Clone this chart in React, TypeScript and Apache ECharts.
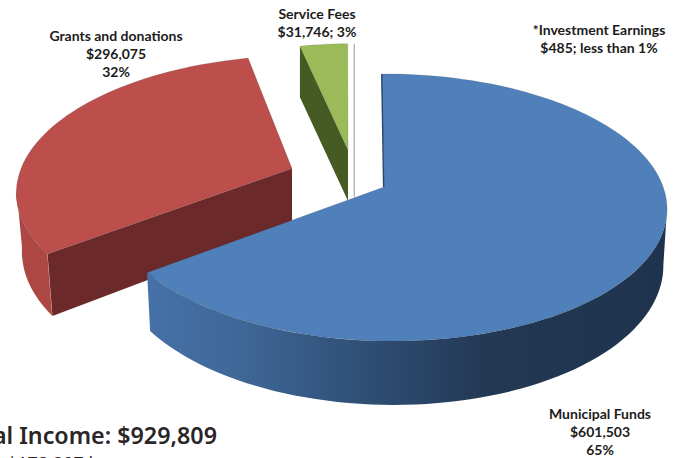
import React, { useEffect, useRef } from "react";
import * as echarts from "echarts";

const names = ["Municipal Funds", "Grants and donations", "Service Fees", "*Investment Earnings"];
const values = [601503, 296075, 31746, 485];
const labelLines = [
  ["Municipal Funds", "$601,503", "65%"],
  ["Grants and donations", "$296,075", "32%"],
  ["Service Fees", "$31,746; 3%"],
  ["*Investment Earnings", "$485; less than 1%"],
];
const totalText = "Total Income: $929,809";
const noteText = "$173,397 in";

// Drawing order, back to front
const drawOrder = [1, 2, 3, 0];

// Perspective of the pie's plane
const K = 0.1536;
const M = -0.015;
const RX = 275;
const RY = 130.4;

const layout = [
  { ox: 384, oy: 187, s: 1, c: -2.9, d: 54, persp: 1, sc: 0.987, wall: [99, 233] },
  { ox: 292, oy: 168.5, s: 1, c: 9, d: 57, persp: 1, sc: 0.98, wall: [233, 261] },
  { ox: 348, oy: 150, s: 0.94, c: 0.5, d: 51, persp: 0, sc: 1, wall: null },
  { ox: 355, oy: 150, s: 0.94, c: 0, d: 47, persp: 0, sc: 1, wall: null },
];
const labelPos = [
  { x: 600, y: 413.5 },
  { x: 116, y: 35.5 },
  { x: 317, y: 13.5 },
  { x: 599, y: 29.5 },
];
const topColors = ["#4f80ba", "#bc4f4c", "#9bbb59", "#ffffff"];

function proj(l: any, deg: number) {
  const t = (deg * Math.PI) / 180;
  const u = Math.sin(t);
  const v = Math.cos(t);
  const w = 1 + K * v + M * u;
  return { x: l.ox + (l.s * (RX * u + l.c * v)) / w, y: l.oy - (l.s * RY * v) / w, w };
}
function low(l: any, p: { x: number; y: number; w: number }) {
  return [l.ox + (p.x - l.ox) * l.sc, p.y + l.d / Math.pow(p.w, l.persp)];
}
function arc(l: any, a0: number, a1: number) {
  const pts: { x: number; y: number; w: number }[] = [];
  const n = Math.max(2, Math.ceil(Math.abs(a1 - a0) / 2));
  for (let i = 0; i <= n; i++) pts.push(proj(l, a0 + ((a1 - a0) * i) / n));
  return pts;
}

const total = values.reduce((a, b) => a + b, 0);
const starts: number[] = [];
values.reduce((acc, v, i) => {
  starts[i] = (acc / total) * 360;
  return acc + v;
}, 0);

function gradient(x0: number, x1: number, stops: [number, string][]) {
  return new echarts.graphic.LinearGradient(
    x0, 0, x1, 0,
    stops.map(([offset, color]) => ({ offset, color })),
    true
  );
}

function renderSlice(params: any, api: any) {
  const i = api.value(1);
  const l = layout[i];
  const a0 = starts[i];
  const a1 = a0 + (api.value(0) / total) * 360;
  const children: any[] = [];
  const apex = [l.ox, l.oy];
  const apexLow = [l.ox, l.oy + l.d];
  const topArc = arc(l, a0, a1);

  if (i === 0) {
    const pts = arc(l, l.wall![0], l.wall![1]);
    children.push({
      type: "polygon",
      shape: { points: [...pts.map((p) => [p.x, p.y]), ...pts.slice().reverse().map((p) => low(l, p))] },
      style: {
        fill: gradient(146, 667, [
          [0, "#4672a8"],
          [0.18, "#3f6797"],
          [0.35, "#33567f"],
          [0.52, "#2a4567"],
          [0.66, "#223853"],
          [1, "#1f334e"],
        ]),
      },
    });
  }
  if (i === 1) {
    const pts = arc(l, l.wall![0], l.wall![1]);
    children.push({
      type: "polygon",
      shape: { points: [...pts.map((p) => [p.x, p.y]), ...pts.slice().reverse().map((p) => low(l, p))] },
      style: { fill: "#ad4744" },
    });
    const e = proj(l, a0);
    children.push({
      type: "polygon",
      shape: { points: [apex, [e.x, e.y], low(l, e), apexLow] },
      style: { fill: "#6b2a29" },
    });
  }
  if (i === 2) {
    const e = proj(l, a0);
    children.push({
      type: "polygon",
      shape: { points: [apex, [e.x, e.y], low(l, e), apexLow] },
      style: { fill: "#465a24" },
    });
  }
  if (i === 3) {
    const e = proj(l, a0);
    children.push({
      type: "polygon",
      shape: { points: [[e.x - 0.6, e.y], [e.x + 0.6, e.y], [e.x + 0.6, apexLow[1]], [e.x - 0.6, apexLow[1]]] },
      style: { fill: "#a6aaab" },
    });
    return { type: "group", children };
  }

  children.push({
    type: "polygon",
    shape: { points: [apex, ...topArc.map((p) => [p.x, p.y])] },
    style: { fill: topColors[i], stroke: "rgba(50,50,50,0.2)", lineWidth: 0.8 },
  });
  if (i === 0) {
    const e = proj(l, a0);
    children.push({
      type: "line",
      shape: { x1: e.x + 0.3, y1: e.y, x2: apex[0] - 0.4, y2: apex[1] },
      style: { stroke: "#2b486e", lineWidth: 1.4 },
    });
  }
  return { type: "group", children };
}

export default function App() {
  const ref = useRef<HTMLDivElement>(null);
  useEffect(() => {
    document.body.style.margin = "0";
    const chart = echarts.init(ref.current!, undefined, { renderer: "svg" });
    const labelFont = 'bold 14px Lato, "Noto Sans", sans-serif';
    const graphics: any[] = [];
    labelLines.forEach((lines, i) => {
      lines.forEach((t, j) => {
        graphics.push({
          type: "text",
          x: labelPos[i].x,
          y: labelPos[i].y + j * 18,
          style: { text: t, font: labelFont, fill: "#1c1c1c", textAlign: "center", textVerticalAlign: "middle" },
        });
      });
    });
    graphics.push({
      type: "text",
      x: 217,
      y: 434.5,
      style: { text: totalText, font: '600 23.3px "Noto Sans", sans-serif', fill: "#2a2627", textAlign: "right", textVerticalAlign: "middle" },
    });
    graphics.push({
      type: "text",
      x: 7,
      y: 463,
      style: { text: noteText, font: '400 18px "Noto Sans", sans-serif', fill: "#2a2627", textAlign: "left", textVerticalAlign: "middle" },
    });
    chart.setOption({
      animation: false,
      backgroundColor: "#ffffff",
      graphic: graphics,
      series: [
        {
          type: "custom",
          name: "Income",
          coordinateSystem: "none",
          silent: true,
          renderItem: renderSlice,
          data: drawOrder.map((i) => ({ name: names[i], value: [values[i], i] })),
        },
      ],
    });
    return () => chart.dispose();
  }, []);
  return <div ref={ref} style={{ width: 676, height: 458 }} />;
}
